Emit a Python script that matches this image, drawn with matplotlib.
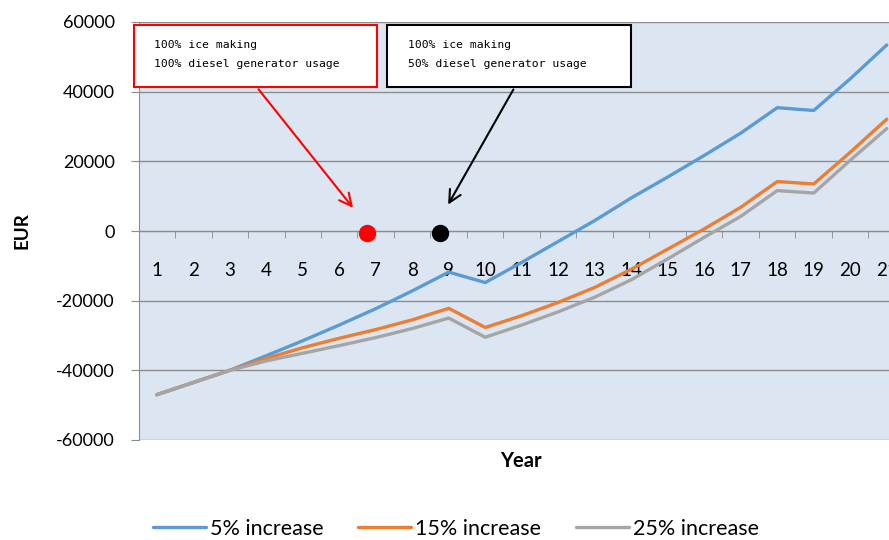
import matplotlib
matplotlib.use("Agg")
import matplotlib.pyplot as plt
from matplotlib.patches import Rectangle
from matplotlib.ticker import FixedLocator, NullFormatter

years = list(range(1, 22))
inc5 = [-47000, -43500, -40000, -35800, -31500, -27000, -22300, -17200, -11800, -14800,
        -9000, -3000, 3000, 9500, 15500, 21700, 28100, 35400, 34600, 43700, 53400]
inc15 = [-47000, -43500, -40000, -36600, -33500, -30800, -28300, -25500, -22200, -27700,
         -24300, -20500, -16200, -11000, -5200, 600, 6800, 14200, 13500, 22600, 32100]
inc25 = [-47000, -43500, -40000, -37300, -35100, -32900, -30600, -28000, -25000, -30500,
         -27000, -23200, -19000, -14000, -8000, -1800, 4200, 11600, 10900, 20300, 29400]
series_labels = ["5% increase", "15% increase", "25% increase"]
colors = ["#5B9BD5", "#ED7D31", "#A5A5A5"]
yticks = [-60000, -40000, -20000, 0, 20000, 40000, 60000]

plt.rcParams['font.family'] = ['Lato', 'DejaVu Sans']

W, H = 889, 540
fig = plt.figure(figsize=(W / 100, H / 100), dpi=100)
left, right, top, bottom = 138.5, 905, 22, 440
ax = fig.add_axes([left / W, (H - bottom) / H, (right - left) / W, (bottom - top) / H])
ax.set_facecolor("#DCE6F2")
ax.set_xlim(0.5, 21.5)
ax.set_ylim(-60000, 60000)

for v in yticks:
    ax.axhline(v, color="#8C8C8C", lw=1.0, zorder=1)

for vals, lab, c in zip([inc5, inc15, inc25], series_labels, colors):
    ax.plot(years, vals, color=c, lw=2.4, label=lab, zorder=3, solid_capstyle='round')

for s in ["top", "right"]:
    ax.spines[s].set_visible(False)
ax.spines["left"].set_color("#8C8C8C")
ax.spines["bottom"].set_color("#8C8C8C")
ax.spines["bottom"].set_position(("data", 0))

ax.set_yticks(yticks)
ax.set_yticklabels([str(v) for v in yticks], fontsize=13)
ax.tick_params(axis="y", length=6, color="#8C8C8C", pad=11)

ax.set_xticks(years)
ax.set_xticklabels([str(y) for y in years], fontsize=13.5)
ax.tick_params(axis="x", which="major", length=0, pad=22)
ax.xaxis.set_minor_locator(FixedLocator([y + 0.5 for y in years]))
ax.xaxis.set_minor_formatter(NullFormatter())
ax.tick_params(axis="x", which="minor", length=5, color="#8C8C8C", direction="out")

fig.text(22 / W, 1 - 231 / H, "EUR", rotation=90, fontsize=13.5, fontweight="bold",
         ha="center", va="center")
fig.text(521 / W, 1 - 461 / H, "Year", fontsize=14.5, fontweight="bold",
         ha="center", va="center")

# annotation boxes
def px2d(px, py):
    return 1 + (px - 157) / 36.5, (231 - py) / 69.7 * 20000

x0, y0 = px2d(134, 87)
x1, y1 = px2d(377, 25)
ax.add_patch(Rectangle((x0, y0), x1 - x0, y1 - y0, facecolor="white", edgecolor="red",
                       lw=1.5, zorder=5, clip_on=False))
x0, y0 = px2d(387, 87)
x1, y1 = px2d(631, 25)
ax.add_patch(Rectangle((x0, y0), x1 - x0, y1 - y0, facecolor="white", edgecolor="black",
                       lw=1.5, zorder=5, clip_on=False))

tx, ty = px2d(154, 45)
ax.text(tx, ty, "100% ice making", fontsize=8.2, family="DejaVu Sans Mono", va="center", zorder=6)
tx, ty = px2d(154, 64)
ax.text(tx, ty, "100% diesel generator usage", fontsize=8.2, family="DejaVu Sans Mono", va="center", zorder=6)
tx, ty = px2d(408, 45)
ax.text(tx, ty, "100% ice making", fontsize=8.2, family="DejaVu Sans Mono", va="center", zorder=6)
tx, ty = px2d(408, 64)
ax.text(tx, ty, "50% diesel generator usage", fontsize=8.2, family="DejaVu Sans Mono", va="center", zorder=6)

ax.annotate("", xy=px2d(355, 210), xytext=px2d(257, 87),
            arrowprops=dict(arrowstyle="->", color="red", lw=1.5, mutation_scale=22), zorder=6)
ax.annotate("", xy=px2d(447, 207), xytext=px2d(515, 87),
            arrowprops=dict(arrowstyle="->", color="black", lw=1.5, mutation_scale=22), zorder=6)

ax.plot([6.75], [-500], "o", color="red", markersize=11.5, zorder=7)
ax.plot([8.75], [-500], "o", color="black", markersize=11.5, zorder=7)

fig.legend(loc="center", bbox_to_anchor=(456 / W, 11 / H), ncol=3, frameon=False,
           fontsize=15.5, handlelength=2.45, handletextpad=0.2, columnspacing=1.6)

fig.savefig("out.png", dpi=100)
